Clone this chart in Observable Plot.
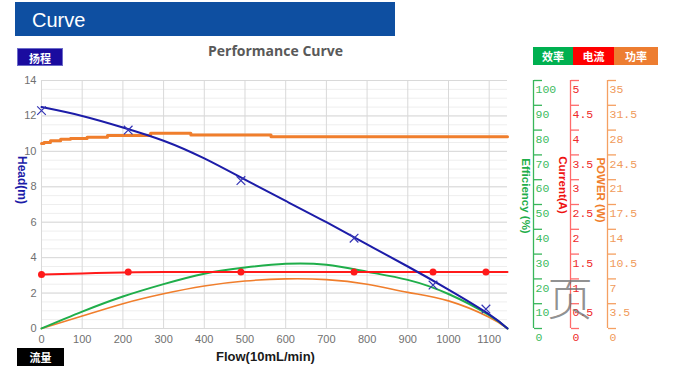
<!DOCTYPE html>
<html><head><meta charset="utf-8">
<script src="https://cdn.jsdelivr.net/npm/d3@7"></script>
<script src="https://cdn.jsdelivr.net/npm/@observablehq/plot@0.6"></script>
<style>
body{margin:0;background:#fff;}
#wrap{position:relative;width:683px;height:367px;overflow:hidden;font-family:"Liberation Sans",Arial,sans-serif;background:#fff;}
#wrap svg{position:absolute;left:0;top:0}
.ov{position:absolute;white-space:nowrap;line-height:1}
.rot{transform:translate(-50%,-50%) rotate(90deg);font-weight:bold}
.box{position:absolute;color:#fff;font-weight:bold;font-size:11px;text-align:center;font-family:"Noto Sans CJK SC",sans-serif;box-sizing:border-box}
</style></head><body><div id="wrap"></div>
<script>
// ---- data ----
const flowTicks = [0,100,200,300,400,500,600,700,800,900,1000,1100];
const headTicks = [0,2,4,6,8,10,12,14];
const effLabels = [0,10,20,30,40,50,60,70,80,90,100];
const curLabels = [0,0.5,1,1.5,2,2.5,3,3.5,4,4.5,5];
const powLabels = [0,3.5,7,10.5,14,17.5,21,24.5,28,31.5,35];

// head curve (m)
const headFlow = [0,100,200,300,400,500,600,700,800,900,1000,1100,1145];
const headVal  = [12.5,12.0,11.35,10.6,9.6,8.4,7.2,6.0,4.75,3.5,2.2,0.8,0];
// test points
const testFlow = [0,213,490,768,962,1092];
const testHead = [12.3,11.2,8.35,5.1,2.45,1.1];
const testCur  = [1.09,1.14,1.14,1.14,1.14,1.14];
// current line (A)
const curFlow = [0,100,200,300,1145];
const curVal  = [1.09,1.11,1.13,1.14,1.14];
// efficiency (%)
const effFlow = [0,100,200,300,400,500,600,700,800,900,1000,1100,1145];
const effVal  = [0,6.8,12.9,17.9,22.1,24.6,26.1,25.7,22.9,19.6,13.9,5.4,0];
// input power (W), stepped
const powFlow = [0,6,22,47,71,112,162,268,367,564,1145];
const powVal  = [26.1,26.25,26.5,26.7,26.8,27.0,27.25,27.55,27.3,27.05,27.05];
// output power (W)
const outFlow = [0,100,200,300,400,500,600,700,800,900,1000,1100,1145];
const outVal  = [0,1.75,3.5,4.9,6.0,6.7,7.0,6.9,6.25,5.1,3.9,1.6,0];

// ---- scale conversions onto the head axis (0..14) ----
const HMAX = 14;
const effY = v => v * HMAX / 100;
const curY = v => v * HMAX / 5;
const powY = v => v * HMAX / 35;

const rows = (xs, ys, f = v => v) => xs.map((x, i) => ({flow: x, v: f(ys[i])}));
const headLine = rows(headFlow, headVal);
const testH = rows(testFlow, testHead);
const testC = rows(testFlow, testCur, curY);
const curLine = rows(curFlow, curVal, curY);
const effLine = rows(effFlow, effVal, effY);
const powLine = rows(powFlow, powVal, powY);
const outLine = rows(outFlow, outVal, powY);
const xMax = headFlow[headFlow.length - 1];

const mono = "'Liberation Mono', 'DejaVu Sans Mono', monospace";
function rightAxis(labels, conv, off, lineColor, textColor) {
  const pos = labels.map(conv);
  const fmt = d => String(labels[pos.findIndex(p => Math.abs(p - d) < 1e-9)]);
  return [
    Plot.ruleX([xMax], {dx: off, stroke: lineColor, strokeWidth: 1.3}),
    Plot.axisY(pos, {anchor: "right", dx: off, tickSize: 8, fill: "none", stroke: lineColor, strokeWidth: 1.3, label: null, tickFormat: () => ""}),
    Plot.axisY(pos, {anchor: "right", dx: off, dy: 9, tickSize: 0, tickPadding: 2, fill: textColor, fontSize: 11.5, fontFamily: mono, label: null, tickFormat: fmt})
  ];
}

const chart = Plot.plot({
  width: 683, height: 367,
  marginLeft: 41, marginRight: 176, marginTop: 80, marginBottom: 39,
  x: {domain: [0, xMax], label: null},
  y: {domain: [0, HMAX], label: null},
  style: {background: "transparent", fontFamily: "'Liberation Sans', Arial, sans-serif", overflow: "visible"},
  marks: [
    Plot.gridY(d3.range(0, HMAX + 0.01, 0.5), {stroke: "#eeeeee", strokeOpacity: 1}),
    Plot.gridY(headTicks, {stroke: "#d9d9d9", strokeOpacity: 1}),
    Plot.gridX(flowTicks, {stroke: "#d9d9d9", strokeOpacity: 1}),
    Plot.axisY(headTicks, {anchor: "left", tickSize: 0, tickPadding: 5, fill: "#707070", fontSize: 11, label: null, tickFormat: d => String(d)}),
    Plot.axisX(flowTicks, {anchor: "bottom", tickSize: 0, tickPadding: 7, fill: "#707070", fontSize: 11, label: null, tickFormat: d => String(d)}),
    ...rightAxis(effLabels, effY, 26, "#37b65a", "#3cbb60"),
    ...rightAxis(curLabels, curY, 63, "#ff6b6b", "#ee2a2a"),
    ...rightAxis(powLabels, powY, 100, "#f5a062", "#f09a5a"),
    Plot.line(outLine, {x: "flow", y: "v", stroke: "#f07e2c", strokeWidth: 1.6, curve: "natural"}),
    Plot.line(effLine, {x: "flow", y: "v", stroke: "#1fae4a", strokeWidth: 2, curve: "natural"}),
    Plot.line(powLine, {x: "flow", y: "v", stroke: "#f07e2c", strokeWidth: 3, curve: "step-after"}),
    Plot.line(curLine, {x: "flow", y: "v", stroke: "#ff1a1a", strokeWidth: 2, curve: "monotone-x"}),
    Plot.dot(testC, {x: "flow", y: "v", r: 3.5, fill: "#ff1a1a"}),
    Plot.line(headLine, {x: "flow", y: "v", stroke: "#1c1ca8", strokeWidth: 2, curve: "natural"}),
    Plot.dot(testH, {x: "flow", y: "v", symbol: "times", r: 4, stroke: "#3535b5", strokeWidth: 1.2})
  ]
});
const wrap = document.getElementById("wrap");
wrap.appendChild(chart);

function ov(html, css, cls = "ov") {
  const d = document.createElement("div");
  d.className = cls;
  d.innerHTML = html;
  d.style.cssText = css;
  wrap.appendChild(d);
}
// banner
ov("", "left:15px;top:2px;width:380px;height:34px;background:#0e4fa1;");
ov("Curve", "left:32px;top:10px;color:#fff;font-size:20px;font-family:'Liberation Sans',Arial,sans-serif;");
// title
ov("Performance Curve", "left:208px;top:44px;color:#595959;font-size:14px;font-weight:bold;font-family:'Open Sans',sans-serif;");
// boxes
ov("扬程", "left:17px;top:48px;width:46px;height:18px;line-height:18px;background:#1a0b9f;border:1px solid #6c6cc8;", "box");
ov("流量", "left:17px;top:348px;width:47px;height:18px;line-height:18px;background:#000;", "box");
ov("效率", "left:533px;top:47px;width:40px;height:18px;line-height:18px;background:#00b050;", "box");
ov("电流", "left:573px;top:47px;width:41px;height:18px;line-height:18px;background:#ff0000;", "box");
ov("功率", "left:614px;top:47px;width:44px;height:18px;line-height:18px;background:#ed7d31;", "box");
// axis titles
ov("Flow(10mL/min)", "left:216px;top:350px;color:#1a1a1a;font-size:13px;font-weight:bold;");
ov("Head(m)", "left:22px;top:180px;color:#1c1ca8;font-size:12px;", "ov rot");
ov("Efficiency (%)", "left:525px;top:196px;color:#1fae4a;font-size:11.5px;", "ov rot");
ov("Current(A)", "left:562px;top:185px;color:#ee1111;font-size:11.5px;", "ov rot");
ov("POWER (W)", "left:600px;top:190px;color:#f07e2c;font-size:11.5px;", "ov rot");
// watermark glyph
ov("页", "left:547px;top:272px;color:rgba(110,110,110,0.75);font-size:46px;font-family:'Noto Sans CJK SC',sans-serif;font-weight:300;");
</script></body></html>
